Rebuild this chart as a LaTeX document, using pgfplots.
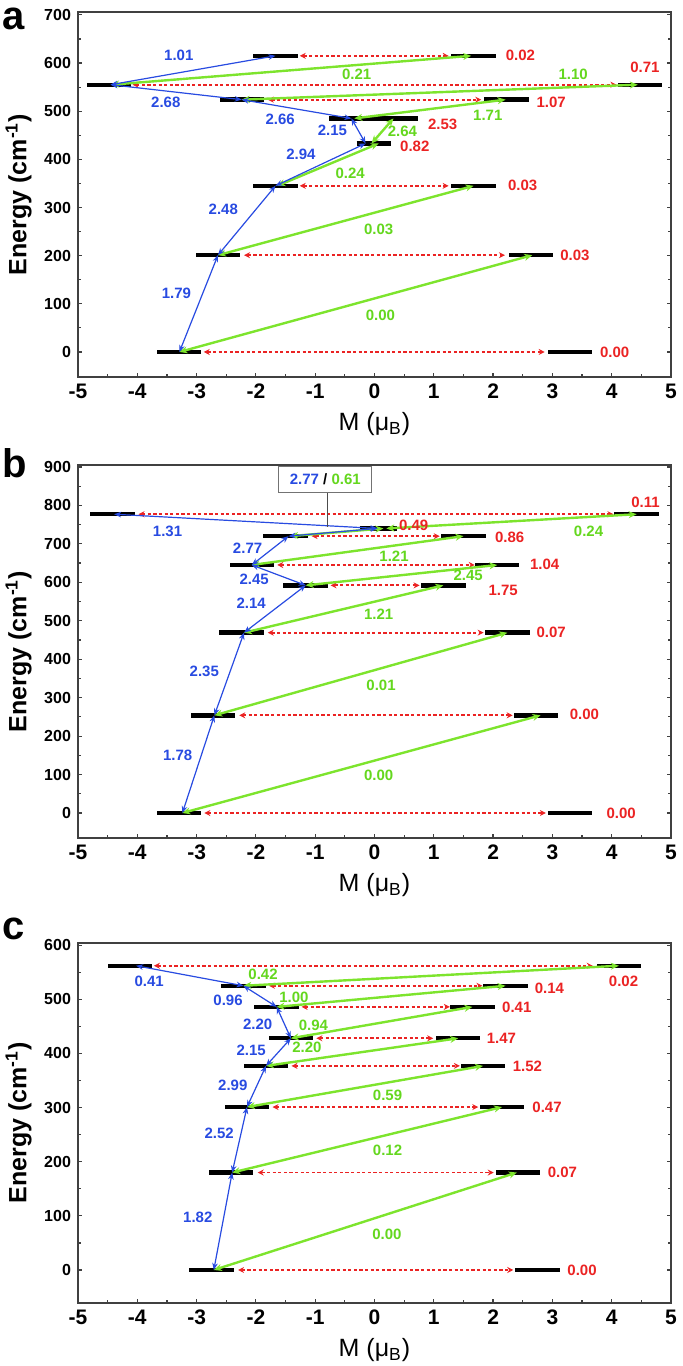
\documentclass[border=0pt]{standalone}
\usepackage{pgfplots}
\pgfplotsset{compat=1.18}
\usetikzlibrary{arrows.meta}
\usepackage{fontspec}
\setmainfont{Liberation Sans}
\definecolor{cb}{RGB}{40,75,225}
\definecolor{cg}{RGB}{125,228,45}
\definecolor{cgt}{RGB}{100,215,30}
\definecolor{cr}{RGB}{235,35,35}
\tikzset{
 bl/.style={cb, line width=0.6pt, {Stealth[length=3.5pt,width=2.8pt]}-{Stealth[length=3.5pt,width=2.8pt]}},
 gr/.style={cg, line width=1.2pt, {Stealth[length=4pt,width=3.5pt]}-{Stealth[length=4pt,width=3.5pt]}},
 rd/.style={cr, line width=0.9pt, dash pattern=on 1.6pt off 1.2pt, {Stealth[length=3pt,width=3pt]}-{Stealth[length=3pt,width=3pt]}},
 lev/.style={black, line width=2.2pt},
}
\newcommand{\ar}[5]{\addplot[#1] coordinates {(#2,#3) (#4,#5)};}
\newcommand{\lb}[4]{\node[text=#1, font=\bfseries\fontsize{7.5}{8}\selectfont, inner sep=0pt] at (axis cs:#2,#3) {#4};}
\pgfplotsset{
 levbars/.style={draw=none, mark=none, forget plot, error bars/.cd, x dir=both, x fixed=0.375, error mark=none, error bar style={draw=black, line width=2.2pt}},
 enax/.style={
  scale only axis, width=296.5pt, anchor=north west, clip=false,
  xmin=-5, xmax=5, xtick={-5,-4,...,5}, minor x tick num=1, minor y tick num=1,
  tick align=inside, xtick pos=left, ytick pos=both, yticklabel pos=left,
  major tick length=2.2pt, minor tick length=1.6pt,
  every tick/.style={black!75, line width=0.6pt},
  axis line style={black!75, line width=0.8pt},
  xticklabel style={font=\bfseries\fontsize{10.5}{11}\selectfont},
  yticklabel style={font=\bfseries\fontsize{8}{9}\selectfont},
  /pgf/number format/assume math mode=true,
  xlabel={M (μ\textsubscript{B})},
  xlabel style={font=\fontsize{12.5}{13}\selectfont},
  ylabel={Energy (cm\textsuperscript{-1})},
  every axis y label/.style={at={(axis description cs:-0.1,0.5)}, rotate=90, anchor=center, font=\bfseries\fontsize{12.5}{13}\selectfont},
 }
}
\begin{document}
\begin{tikzpicture}
\path[use as bounding box] (0,0) rectangle (341.5pt,-683pt);
% ---------------- panel a
\begin{axis}[enax, at={(39pt,-6pt)}, height=182.5pt, ymin=-52, ymax=706, ytick={0,100,...,700}]
\addplot[levbars] table {
x y
-3.3 0
3.3 0
-2.64 201
2.64 201
-1.67 345
1.67 345
-2.23 524
2.23 524
-4.48 555
4.48 555
-1.67 615
1.67 615
};
\addplot[lev] coordinates {(-0.3,433) (0.27,433)};
\addplot[lev] coordinates {(-0.76,485) (0.74,485)};
% red
\ar{rd}{-2.88}{0}{2.87}{0}
\ar{rd}{-2.2}{201}{2.2}{201}
\ar{rd}{-1.26}{345}{1.25}{345}
\ar{rd}{-1.8}{524}{1.8}{524}
\ar{rd}{-4.08}{555}{4.08}{555}
\ar{rd}{-1.26}{615}{1.25}{615}
% green
\ar{gr}{-3.29}{0}{2.66}{201}
\ar{gr}{-2.64}{201}{1.67}{345}
\ar{gr}{-1.64}{345}{0.07}{433}
\ar{gr}{-0.05}{433}{0.32}{485}
\ar{gr}{-0.34}{485}{2.21}{524}
\ar{gr}{-2.24}{524}{4.44}{555}
\ar{gr}{-4.44}{555}{1.63}{615}
% blue
\ar{bl}{-3.29}{0}{-2.64}{201}
\ar{bl}{-2.64}{201}{-1.67}{345}
\ar{bl}{-1.67}{345}{-0.15}{433}
\ar{bl}{-0.15}{433}{-0.39}{485}
\ar{bl}{-0.39}{485}{-2.24}{524}
\ar{bl}{-2.24}{524}{-4.45}{555}
\ar{bl}{-4.45}{555}{-1.67}{615}
% labels
\lb{cr}{4.05}{0}{0.00}
\lb{cr}{3.38}{201}{0.03}
\lb{cr}{2.5}{345}{0.03}
\lb{cr}{0.68}{428}{0.82}
\lb{cr}{1.15}{473}{2.53}
\lb{cr}{2.98}{518}{1.07}
\lb{cr}{4.56}{591}{0.71}
\lb{cr}{2.46}{615}{0.02}
\lb{cb}{-3.3}{617}{1.01}
\lb{cb}{-3.52}{519}{2.68}
\lb{cb}{-1.59}{484}{2.66}
\lb{cb}{-0.71}{460}{2.15}
\lb{cb}{-1.24}{410}{2.94}
\lb{cb}{-2.55}{296}{2.48}
\lb{cb}{-3.34}{122}{1.79}
\lb{cgt}{-0.3}{576}{0.21}
\lb{cgt}{3.35}{576}{1.10}
\lb{cgt}{1.91}{491}{1.71}
\lb{cgt}{0.47}{459}{2.64}
\lb{cgt}{-0.41}{372}{0.24}
\lb{cgt}{0.07}{254}{0.03}
\lb{cgt}{0.1}{77}{0.00}
\end{axis}
% ---------------- panel b
\begin{axis}[enax, at={(39pt,-232.5pt)}, height=186.5pt, ymin=-65, ymax=905, ytick={0,100,...,900}]
\addplot[levbars] table {
x y
-3.3 0
3.3 0
-2.72 254
2.72 254
-2.24 469
2.24 469
-1.16 592
1.16 592
-2.07 645
2.07 645
-1.5 720
1.5 720
-4.42 777
4.42 777
};
\addplot[lev] coordinates {(-0.25,740) (0.38,740)};
% red
\ar{rd}{-2.87}{0}{2.89}{0}
\ar{rd}{-2.28}{254}{2.33}{254}
\ar{rd}{-1.8}{469}{1.84}{469}
\ar{rd}{-0.74}{592}{0.76}{592}
\ar{rd}{-1.64}{645}{1.69}{645}
\ar{rd}{-1.06}{720}{1.1}{720}
\ar{rd}{-3.98}{777}{4.03}{777}
% green
\ar{gr}{-3.24}{0}{2.8}{254}
\ar{gr}{-2.7}{254}{2.24}{469}
\ar{gr}{-2.2}{469}{1.16}{592}
\ar{gr}{-1.16}{592}{2.07}{645}
\ar{gr}{-2.07}{645}{1.5}{720}
\ar{gr}{-1.42}{720}{0.15}{740}
\ar{gr}{0.2}{740}{4.42}{777}
% blue
\ar{bl}{-3.24}{0}{-2.7}{254}
\ar{bl}{-2.7}{254}{-2.2}{469}
\ar{bl}{-2.2}{469}{-1.16}{592}
\ar{bl}{-1.16}{592}{-2.07}{645}
\ar{bl}{-2.07}{645}{-1.45}{720}
\ar{bl}{-1.45}{720}{0.05}{740}
\ar{bl}{0.05}{740}{-4.39}{777}
% labels
\lb{cr}{4.16}{0}{0.00}
\lb{cr}{3.54}{256}{0.00}
\lb{cr}{2.98}{469}{0.07}
\lb{cr}{2.17}{578}{1.75}
\lb{cr}{2.87}{646}{1.04}
\lb{cr}{2.28}{718}{0.86}
\lb{cr}{0.66}{747}{0.49}
\lb{cr}{4.57}{808}{0.11}
\lb{cb}{-3.32}{150}{1.78}
\lb{cb}{-2.87}{368}{2.35}
\lb{cb}{-2.08}{546}{2.14}
\lb{cb}{-2.03}{607}{2.45}
\lb{cb}{-2.14}{688}{2.77}
\lb{cb}{-3.49}{733}{1.31}
\lb{cgt}{0.07}{98}{0.00}
\lb{cgt}{0.11}{333}{0.01}
\lb{cgt}{0.07}{518}{1.21}
\lb{cgt}{1.58}{617}{2.45}
\lb{cgt}{0.33}{668}{1.21}
\lb{cgt}{3.61}{733}{0.24}
\draw[black!70, line width=0.5pt] (axis cs:-0.8,833) -- (axis cs:-0.8,745);
\node[draw=black!55, fill=white, line width=0.6pt, minimum width=46.5pt, minimum height=13pt, inner sep=1pt, font=\bfseries\fontsize{7.5}{8}\selectfont] at (axis cs:-0.83,867) {\textcolor{cb}{2.77} / \textcolor{cgt}{0.61}};
\end{axis}
% ---------------- panel c
\begin{axis}[enax, at={(39pt,-471.5pt)}, height=180pt, ymin=-61, ymax=604, ytick={0,100,...,600}]
\addplot[levbars] table {
x y
-2.75 0
2.75 0
-2.42 180
2.42 180
-2.15 301
2.15 301
-1.83 377
1.83 377
-1.41 428
1.41 428
-1.65 486
1.65 486
-2.21 525
2.21 525
-4.12 562
4.12 562
};
% red
\ar{rd}{-2.3}{0}{2.34}{0}
\ar{rd}{-1.97}{180}{2.01}{180}
\ar{rd}{-1.72}{301}{1.75}{301}
\ar{rd}{-1.4}{377}{1.44}{377}
\ar{rd}{-0.98}{428}{0.99}{428}
\ar{rd}{-1.23}{486}{1.27}{486}
\ar{rd}{-1.78}{525}{1.82}{525}
\ar{rd}{-3.72}{562}{3.68}{562}
% green
\ar{gr}{-2.71}{0}{2.4}{180}
\ar{gr}{-2.4}{180}{2.15}{301}
\ar{gr}{-2.15}{301}{1.83}{377}
\ar{gr}{-1.83}{377}{1.41}{428}
\ar{gr}{-1.41}{428}{1.65}{486}
\ar{gr}{-1.65}{486}{2.21}{525}
\ar{gr}{-2.21}{525}{4.12}{562}
% blue
\ar{bl}{-2.71}{0}{-2.4}{180}
\ar{bl}{-2.4}{180}{-2.15}{301}
\ar{bl}{-2.15}{301}{-1.83}{377}
\ar{bl}{-1.83}{377}{-1.41}{428}
\ar{bl}{-1.41}{428}{-1.65}{486}
\ar{bl}{-1.65}{486}{-2.21}{525}
\ar{bl}{-2.21}{525}{-4.02}{562}
% labels
\lb{cr}{3.5}{0}{0.00}
\lb{cr}{3.17}{180}{0.07}
\lb{cr}{2.91}{301}{0.47}
\lb{cr}{2.58}{377}{1.52}
\lb{cr}{2.14}{428}{1.47}
\lb{cr}{2.4}{486}{0.41}
\lb{cr}{2.95}{520}{0.14}
\lb{cr}{4.2}{534}{0.02}
\lb{cb}{-2.98}{97}{1.82}
\lb{cb}{-2.62}{253}{2.52}
\lb{cb}{-2.39}{342}{2.99}
\lb{cb}{-2.08}{406}{2.15}
\lb{cb}{-1.97}{454}{2.20}
\lb{cb}{-2.47}{498}{0.96}
\lb{cb}{-3.8}{533}{0.41}
\lb{cgt}{0.21}{66}{0.00}
\lb{cgt}{0.22}{221}{0.12}
\lb{cgt}{0.22}{322}{0.59}
\lb{cgt}{-1.14}{411}{2.20}
\lb{cgt}{-1.03}{452}{0.94}
\lb{cgt}{-1.36}{503}{1.00}
\lb{cgt}{-1.88}{547}{0.42}
\end{axis}
\node[anchor=base west, font=\bfseries\fontsize{20}{20}\selectfont, inner sep=0pt] at (1pt,-14.5pt) {a};
\node[anchor=base west, font=\bfseries\fontsize{20}{20}\selectfont, inner sep=0pt] at (1pt,-238.5pt) {b};
\node[anchor=base west, font=\bfseries\fontsize{20}{20}\selectfont, inner sep=0pt] at (1pt,-469.5pt) {c};
\end{tikzpicture}
\end{document}
